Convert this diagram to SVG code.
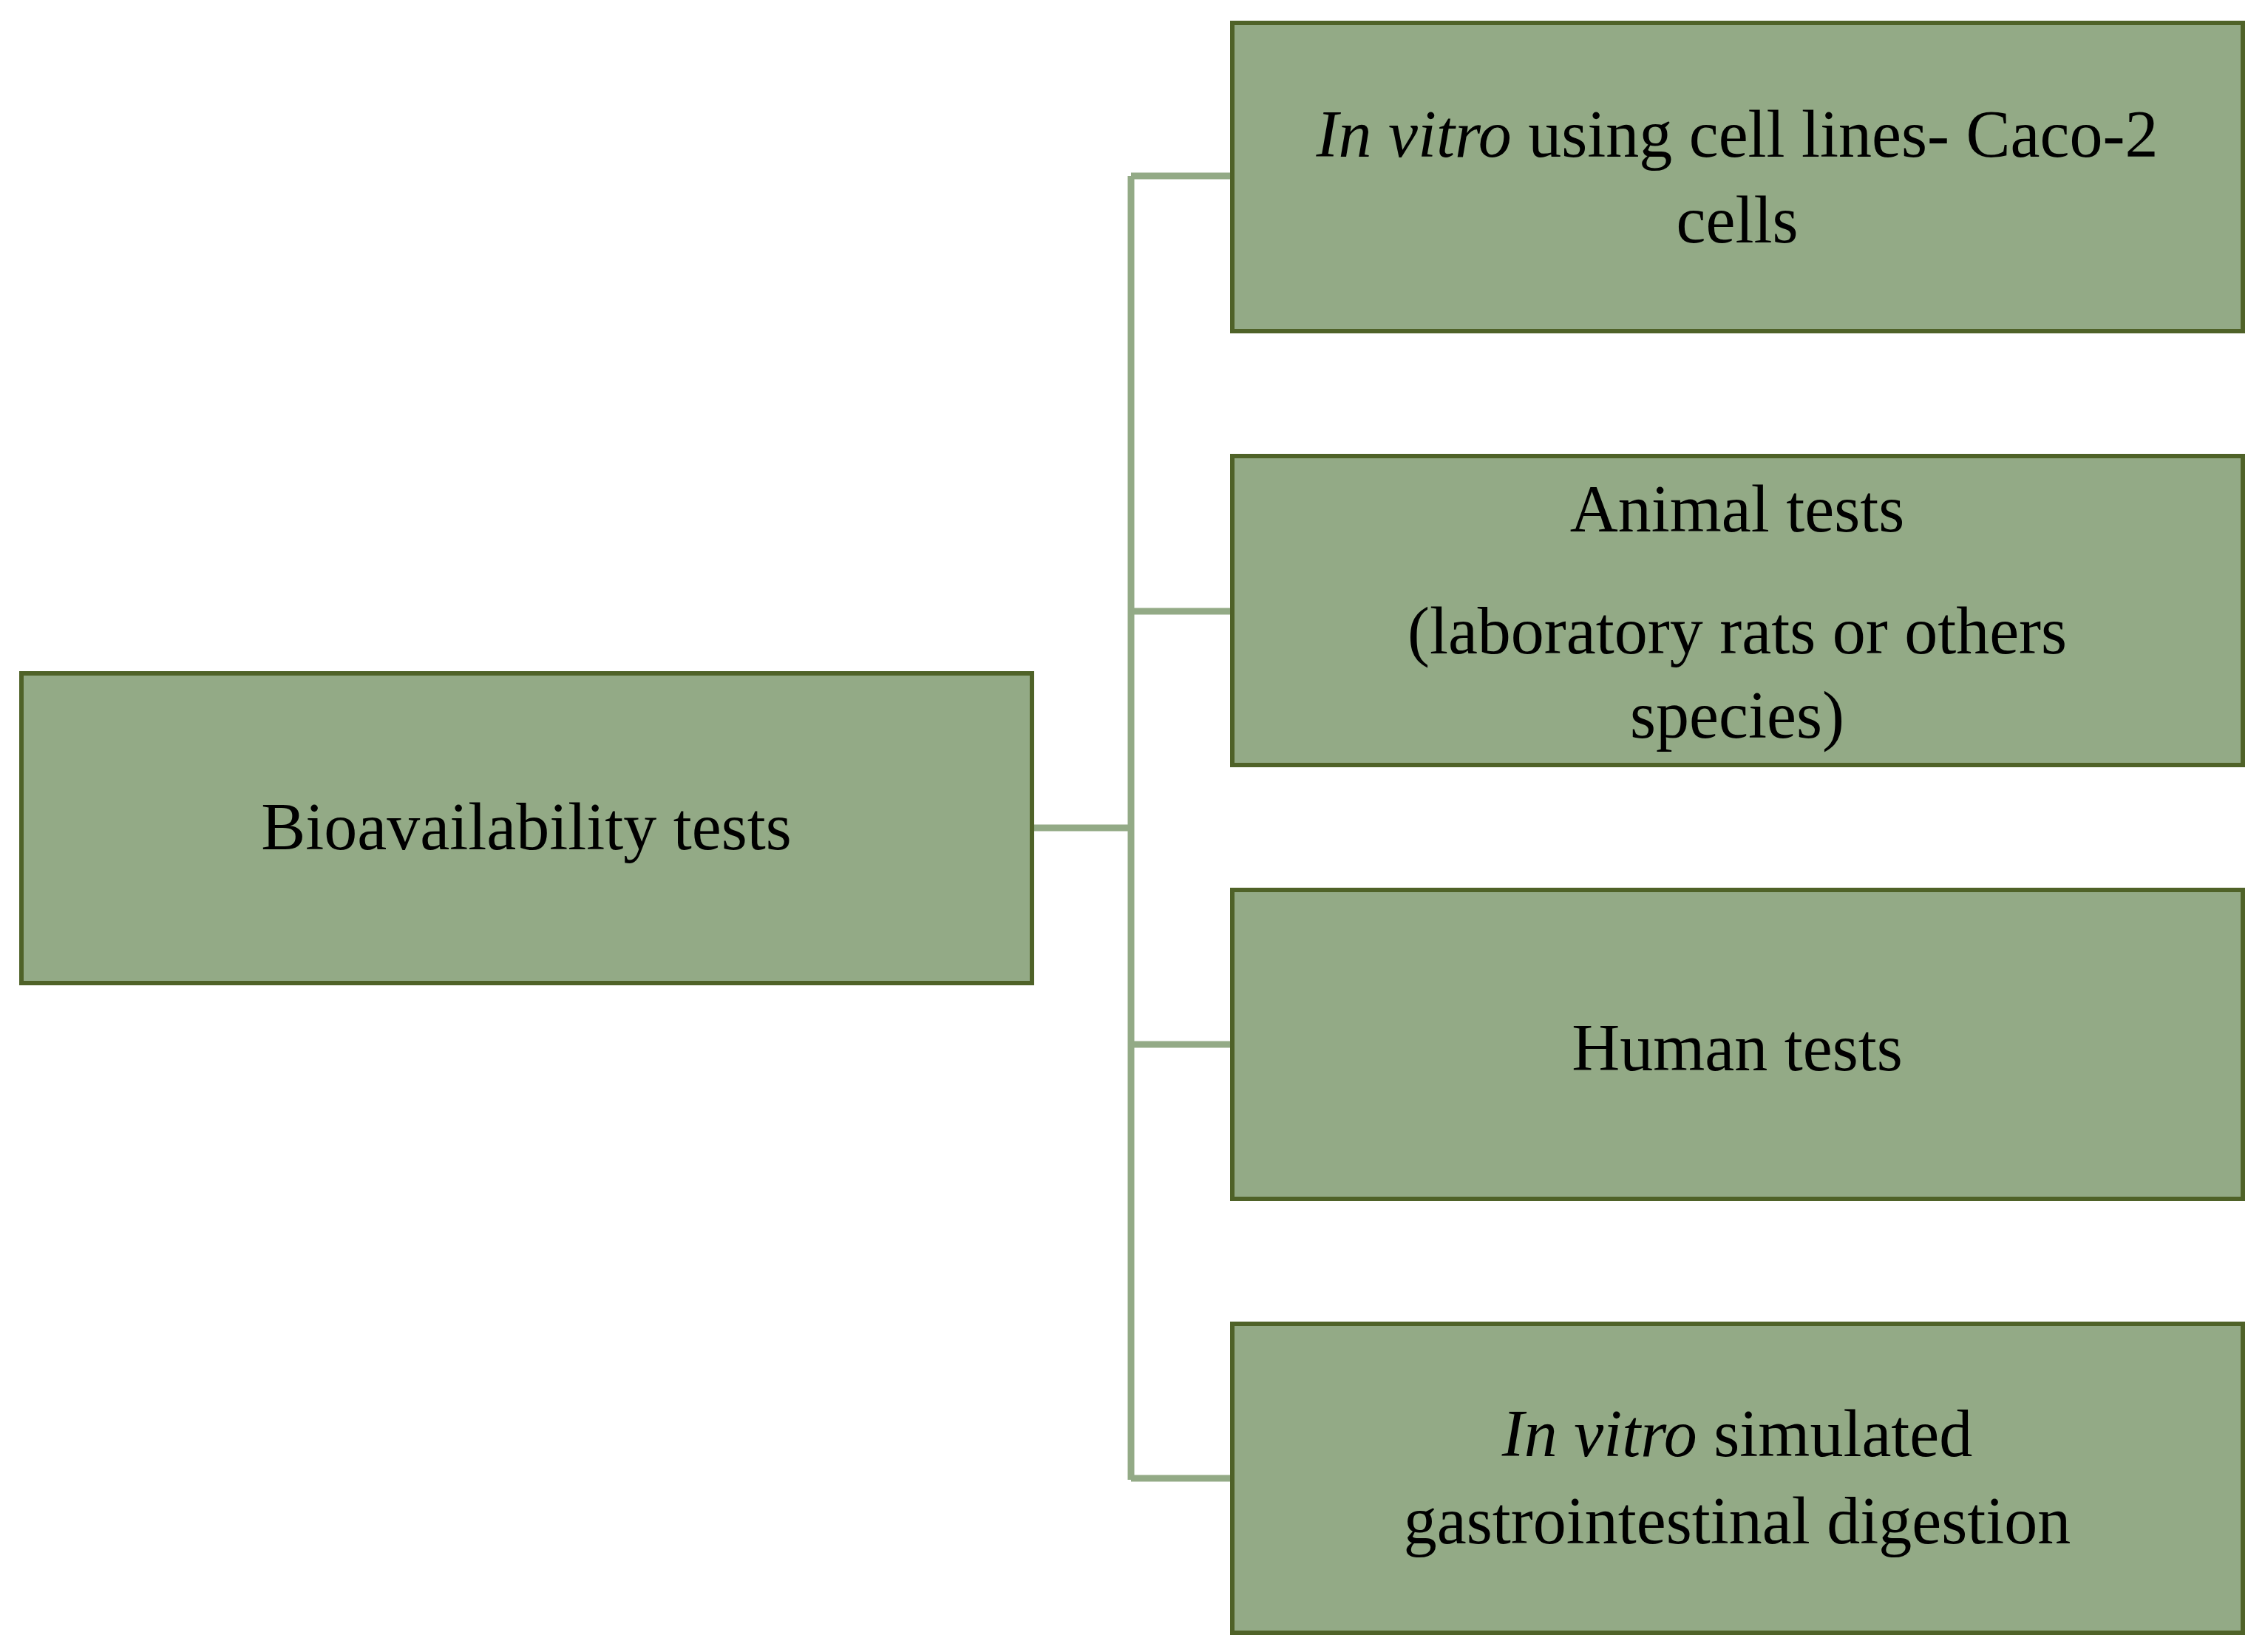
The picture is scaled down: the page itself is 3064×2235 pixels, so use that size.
<svg xmlns="http://www.w3.org/2000/svg" width="3064" height="2235" viewBox="0 0 3064 2235">
<style>
.box{fill:#93AA86;stroke:#4F6228;stroke-width:6}
.t{font-family:"Liberation Serif",serif;font-size:90px;fill:#000;text-anchor:middle}
.c{stroke:#93AA86;stroke-width:9;fill:none}
</style>
<rect width="3064" height="2235" fill="#fff"/>
<g id="connectors">
<path class="c" d="M1396 1120H1530M1530 238V2002M1530 238H1667M1530 827H1667M1530 1413H1667M1530 2000H1667"/>
</g>
<g id="root"><rect class="box" x="29" y="911" width="1367" height="419"/>
<text class="t" x="712" y="1149">Bioavailability tests</text></g>
<g id="n1"><rect class="box" x="1667" y="31" width="1367" height="417"/>
<text class="t" x="2350" y="212"><tspan font-style="italic">In vitro</tspan> using cell lines- Caco-2</text>
<text class="t" x="2350" y="328">cells</text></g>
<g id="n2"><rect class="box" x="1667" y="617" width="1367" height="418"/>
<text class="t" x="2350" y="719">Animal tests</text>
<text class="t" x="2350" y="884">(laboratory rats or others</text>
<text class="t" x="2350" y="998">species)</text></g>
<g id="n3"><rect class="box" x="1667" y="1204" width="1367" height="418"/>
<text class="t" x="2350" y="1448">Human tests</text></g>
<g id="n4"><rect class="box" x="1667" y="1791" width="1367" height="418"/>
<text class="t" x="2350" y="1970"><tspan font-style="italic">In vitro</tspan> simulated</text>
<text class="t" x="2350" y="2088">gastrointestinal digestion</text></g>
</svg>
